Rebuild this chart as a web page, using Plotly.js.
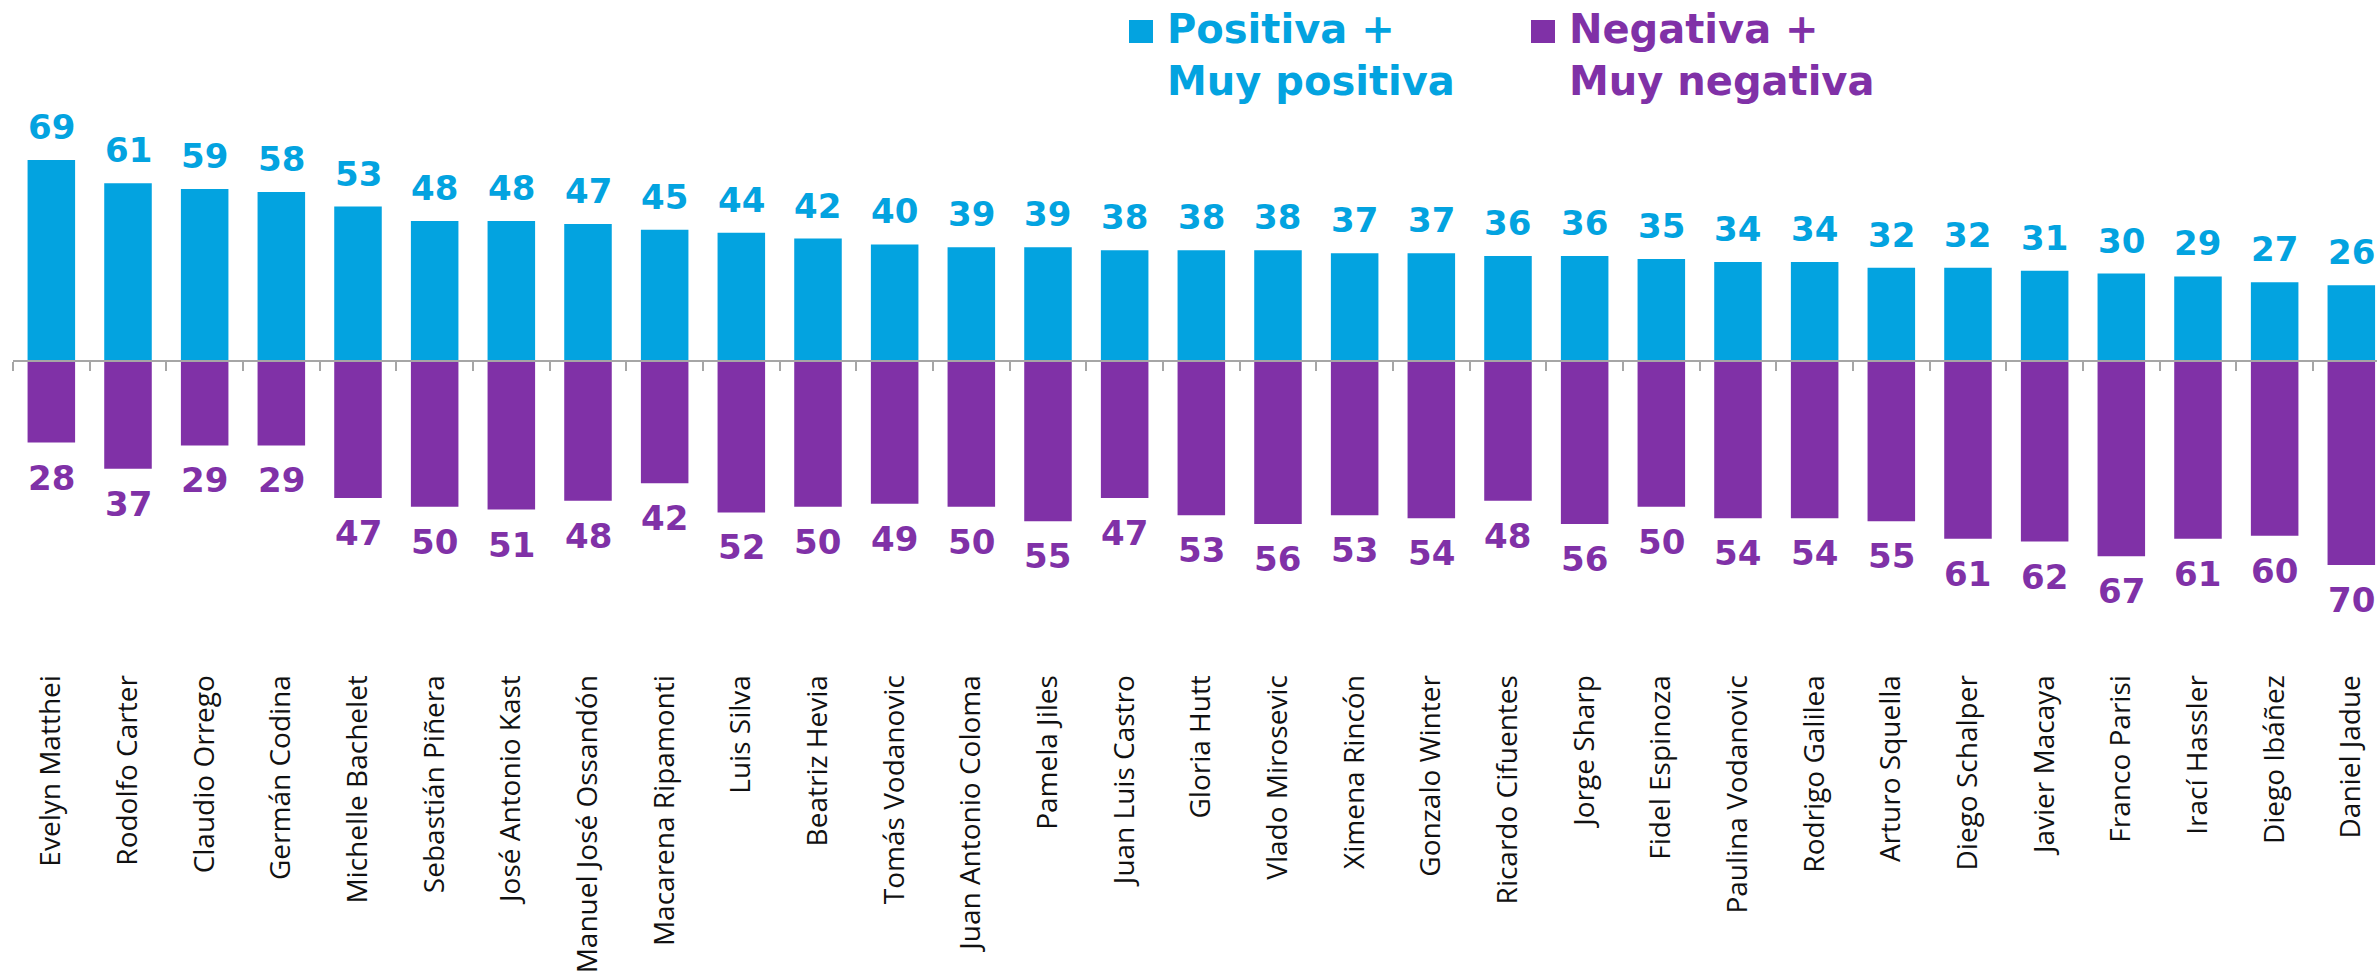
<!DOCTYPE html>
<html>
<head>
<meta charset="utf-8">
<script src="https://cdn.plot.ly/plotly-3.0.1.min.js"></script>
<style>html,body{margin:0;padding:0;background:#fff;}#chart{width:2377px;height:980px;}</style>
</head>
<body>
<div id="chart"></div>
<script>
const categories = ["Evelyn Matthei","Rodolfo Carter","Claudio Orrego","Germán Codina","Michelle Bachelet","Sebastián Piñera","José Antonio Kast","Manuel José Ossandón","Macarena Ripamonti","Luis Silva","Beatriz Hevia","Tomás Vodanovic","Juan Antonio Coloma","Pamela Jiles","Juan Luis Castro","Gloria Hutt","Vlado Mirosevic","Ximena Rincón","Gonzalo Winter","Ricardo Cifuentes","Jorge Sharp","Fidel Espinoza","Paulina Vodanovic","Rodrigo Galilea","Arturo Squella","Diego Schalper","Javier Macaya","Franco Parisi","Irací Hassler","Diego Ibáñez","Daniel Jadue"];
const positiva = [69,61,59,58,53,48,48,47,45,44,42,40,39,39,38,38,38,37,37,36,36,35,34,34,32,32,31,30,29,27,26];
const negativa = [28,37,29,29,47,50,51,48,42,52,50,49,50,55,47,53,56,53,54,48,56,50,54,54,55,61,62,67,61,60,70];
const seriesNames = ["Positiva +<br>Muy positiva", "Negativa +<br>Muy negativa"];
const seriesColors = ["#03A3E0", "#8031A7"];

const W = 2377, H = 980;
const M = {l: 13, r: 0, t: 0, b: 380};
const yRange = [-82.05, 123.9];
const xRange = [-0.5, 30.335];
const plotW = W - M.l - M.r, plotH = H - M.t - M.b;
const pxX = p => (p - M.l) / plotW;
const pxY = p => (H - M.b - p) / plotH;

const traces = [
  {type: 'bar', x: categories, y: positiva, name: seriesNames[0],
   marker: {color: seriesColors[0], line: {width: 0}}, hoverinfo: 'x+y'},
  {type: 'bar', x: categories, y: negativa.map(v => -v), name: seriesNames[1],
   marker: {color: seriesColors[1], line: {width: 0}}, hoverinfo: 'x+y'}
];

const annotations = [];
categories.forEach((c, i) => {
  annotations.push({x: c, y: positiva[i], xref: 'x', yref: 'y', text: String(positiva[i]),
    showarrow: false, yanchor: 'bottom', yshift: 11,
    font: {family: 'DejaVu Sans', size: 34, color: seriesColors[0], weight: 'bold'}});
  annotations.push({x: c, y: -negativa[i], xref: 'x', yref: 'y', text: String(negativa[i]),
    showarrow: false, yanchor: 'top', yshift: -13,
    font: {family: 'DejaVu Sans', size: 34, color: seriesColors[1], weight: 'bold'}});
});
// legend texts
const legX = [1165, 1567];
const swX = [1129, 1531];
seriesNames.forEach((n, k) => {
  annotations.push({x: pxX(legX[k]), y: pxY(4), xref: 'paper', yref: 'paper', text: n,
    showarrow: false, xanchor: 'left', yanchor: 'top', align: 'left',
    font: {family: 'DejaVu Sans', size: 40, color: seriesColors[k], weight: 'bold'}});
});
const shapes = seriesNames.map((n, k) => ({type: 'rect', xref: 'paper', yref: 'paper',
  x0: pxX(swX[k]), x1: pxX(swX[k] + 24), y0: pxY(43), y1: pxY(20),
  fillcolor: seriesColors[k], line: {width: 0}}));

const layout = {
  width: W, height: H,
  margin: M,
  paper_bgcolor: '#fff', plot_bgcolor: '#fff',
  barmode: 'relative', bargap: 0.38,
  showlegend: false,
  xaxis: {
    type: 'category', range: xRange, anchor: 'free',
    position: (0 - yRange[0]) / (yRange[1] - yRange[0]),
    showline: true, linecolor: '#A6A6A6', linewidth: 2,
    ticks: 'outside', tickson: 'boundaries', ticklen: 9, tickwidth: 2, tickcolor: '#A6A6A6',
    tickangle: -90, ticklabelstandoff: 302,
    tickfont: {family: 'Open Sans', size: 28, color: '#111'},
    showgrid: false, zeroline: false, fixedrange: true
  },
  yaxis: {range: yRange, visible: false, showgrid: false, zeroline: false, fixedrange: true},
  annotations: annotations,
  shapes: shapes
};

Plotly.newPlot('chart', traces, layout, {displayModeBar: false, staticPlot: true});
</script>
</body>
</html>
